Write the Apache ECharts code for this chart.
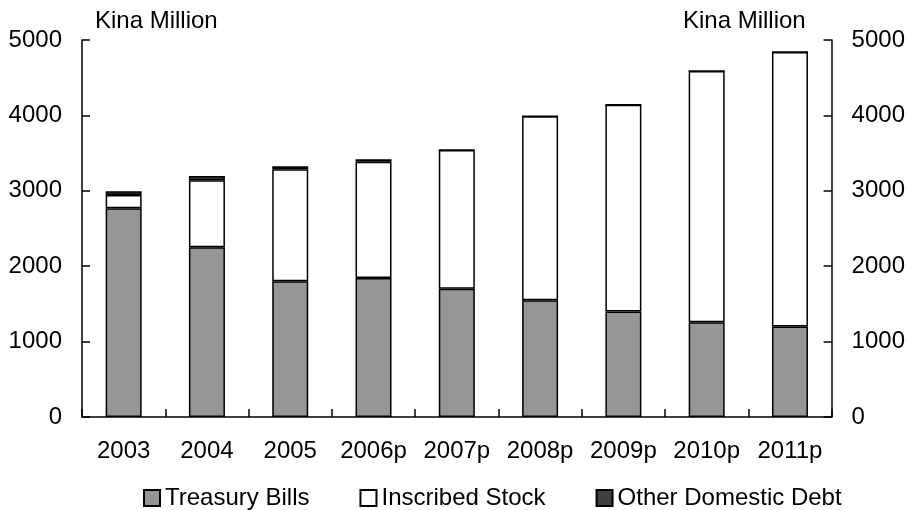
<!DOCTYPE html>
<html><head><meta charset="utf-8">
<script src="https://cdn.jsdelivr.net/npm/echarts@6/dist/echarts.min.js"></script>
<style>html,body{margin:0;padding:0;background:#fff}#c{width:908px;height:510px}</style>
</head><body><div id="c"></div>
<script>
const categories = ['2003','2004','2005','2006p','2007p','2008p','2009p','2010p','2011p'];
const treasuryBills = [2770, 2250, 1800, 1845, 1700, 1550, 1400, 1255, 1200];
const inscribedStock = [175, 890, 1485, 1540, 1840, 2440, 2740, 3335, 3640];
const otherDebt = [50, 55, 40, 35, 0, 0, 0, 0, 0];
const yTicks = [0, 1000, 2000, 3000, 4000, 5000];
const unitLabel = 'Kina Million';

const FONT = 'Liberation Sans, Arial, sans-serif';
const FS = 24;
const chart = echarts.init(document.getElementById('c'), null, {renderer:'canvas'});
const yAxisBase = {
  type:'value', min:yTicks[0], max:yTicks[yTicks.length-1], interval:1000,
  axisLine:{show:true, lineStyle:{color:'#000', width:1.5}},
  axisTick:{show:true, inside:true, length:8, lineStyle:{color:'#000', width:1.5}},
  axisLabel:{color:'#000', fontSize:FS, fontFamily:FONT, margin:20, formatter:function(v){return String(v);}},
  splitLine:{show:false}
};
const barBase = {type:'bar', stack:'total', barWidth:36};
chart.setOption({
  animation:false,
  backgroundColor:'#fff',
  grid:{left:82, right:73, top:40, bottom:93},
  xAxis:{type:'category', data:categories,
    axisLine:{lineStyle:{color:'#000', width:1.5}},
    axisTick:{show:true, inside:true, length:8, alignWithLabel:false, interval:0, lineStyle:{color:'#000', width:1.5}},
    axisLabel:{color:'#000', fontSize:FS, fontFamily:FONT, margin:22, interval:0}
  },
  yAxis:[Object.assign({}, yAxisBase, {position:'left'}),
         Object.assign({}, yAxisBase, {position:'right'})],
  legend:{left:138, top:481, itemWidth:16, itemHeight:16, itemGap:50, icon:'rect',
    textStyle:{color:'#000', fontSize:FS, fontFamily:FONT},
    data:['Treasury Bills','Inscribed Stock','Other Domestic Debt']},
  graphic:[
    {type:'text', left:95, top:9, style:{text:unitLabel, fill:'#000', font:FS+'px '+FONT}},
    {type:'text', left:683, top:9, style:{text:unitLabel, fill:'#000', font:FS+'px '+FONT}}
  ],
  series:[
    Object.assign({}, barBase, {name:'Treasury Bills', data:treasuryBills, itemStyle:{color:'#969696', borderColor:'#000', borderWidth:1.5}}),
    Object.assign({}, barBase, {name:'Inscribed Stock', data:inscribedStock, itemStyle:{color:'#ffffff', borderColor:'#000', borderWidth:1.5}}),
    Object.assign({}, barBase, {name:'Other Domestic Debt', data:otherDebt, itemStyle:{color:'#404040', borderColor:'#000', borderWidth:1.5}})
  ]
});
</script></body></html>
